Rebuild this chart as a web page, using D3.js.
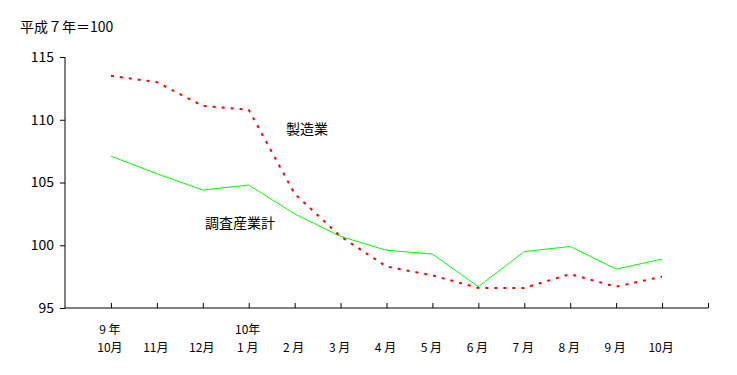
<!DOCTYPE html>
<html>
<head>
<meta charset="utf-8">
<script src="https://cdn.jsdelivr.net/npm/d3@7"></script>
<style>
  body { margin: 0; background: #fff; }
  svg text { font-family: "Noto Sans CJK JP", "DejaVu Sans", sans-serif; font-size: 14px; fill: #000; white-space: pre; }
</style>
</head>
<body>
<svg id="chart" width="737" height="375"></svg>
<script>
const months = ["10月", "11月", "12月", "1 月", "2 月", "3 月", "4 月", "5 月", "6 月", "7 月", "8 月", "9 月", "10月"];
const years = ["9 年", "", "", "10年", "", "", "", "", "", "", "", "", ""];
const seizo = [113.5, 113.0, 111.1, 110.8, 104.1, 100.7, 98.3, 97.6, 96.6, 96.6, 97.7, 96.7, 97.5];
const total = [107.1, 105.7, 104.4, 104.8, 102.5, 100.7, 99.6, 99.3, 96.7, 99.5, 99.9, 98.1, 98.9];
const yTicks = [95, 100, 105, 110, 115];

const svg = d3.select("#chart");
const plotLeft = 65, plotRight = 708, plotTop = 57, plotBottom = 308;

// 14 slots, points sit on the ticks between slots
const x = d3.scaleLinear().domain([-1, 13]).range([plotLeft, plotRight]);
const y = d3.scaleLinear().domain([95, 115]).range([plotBottom, plotTop]);

svg.append("text")
  .attr("x", 20).attr("y", 32)
  .text("平成７年＝100");

// y axis
const yAxis = svg.append("g")
  .attr("transform", `translate(${plotLeft},0)`)
  .call(d3.axisLeft(y).tickValues(yTicks).tickSize(5).tickPadding(6));
yAxis.select(".domain").attr("stroke", "#000").attr("d", `M0,${plotTop}V${plotBottom}`);
yAxis.selectAll("line").attr("stroke", "#000");
yAxis.selectAll("text").style("font-size", "14px");

// x axis
const xTickVals = d3.range(0, 14);
const xAxis = svg.append("g")
  .attr("transform", `translate(0,${plotBottom})`)
  .call(d3.axisTop(x).tickValues(xTickVals).tickSize(5).tickFormat(""));
xAxis.select(".domain").attr("stroke", "#000").attr("d", `M${plotLeft},0H${plotRight}`);
xAxis.selectAll("line").attr("stroke", "#000");

svg.append("g").selectAll("text")
  .data(years)
  .enter().append("text")
  .attr("x", (d, i) => x(i) - 1)
  .attr("y", 334)
  .attr("text-anchor", "middle")
  .style("font-size", "12px")
  .text(d => d);

svg.append("g").selectAll("text")
  .data(months)
  .enter().append("text")
  .attr("x", (d, i) => x(i) - 1)
  .attr("y", 352)
  .attr("text-anchor", "middle")
  .style("font-size", "12px")
  .text(d => d);

const line = d3.line()
  .x((d, i) => x(i))
  .y(d => y(d));

svg.append("path")
  .datum(total)
  .attr("fill", "none")
  .attr("stroke", "#00ff00")
  .attr("stroke-width", 1)
  .attr("d", line);

svg.append("path")
  .datum(seizo)
  .attr("fill", "none")
  .attr("stroke", "#ff0000")
  .attr("stroke-width", 2)
  .attr("stroke-dasharray", "3,6")
  .attr("d", line);

svg.append("text")
  .attr("x", 286).attr("y", 134)
  .text("製造業");

svg.append("text")
  .attr("x", 205).attr("y", 228)
  .text("調査産業計");
</script>
</body>
</html>
